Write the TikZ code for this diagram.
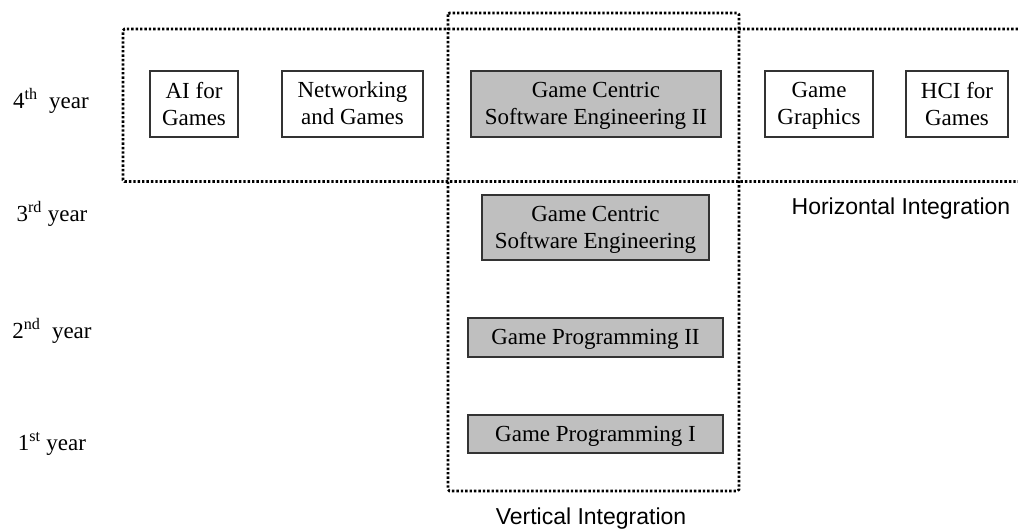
\documentclass[tikz,border=0pt]{standalone}
\usepackage{fontspec}
\setmainfont{Liberation Serif}
\newfontfamily\labelsans{Liberation Sans}
\begin{document}
\begin{tikzpicture}[x=1pt,y=1pt,
  course/.style={draw=black!80, line width=1.1pt, align=center, inner sep=0pt,
    text depth=1pt, font=\fontsize{23}{27}\selectfont},
  core/.style={course, fill=black!25},
  elective/.style={course, fill=white},
  yearlabel/.style={inner sep=0pt, font=\fontsize{23}{27}\selectfont},
  grouplabel/.style={inner sep=0pt, font=\labelsans\fontsize{23}{27}\selectfont},
  frame/.style={line width=2.8pt, dash pattern=on 2.4pt off 2.0pt, rounded corners=1.5pt}]
\useasboundingbox (0,0) rectangle (1018,529);

% year labels
\node[yearlabel] (y4) at (51,428) {4\textsuperscript{th}\ \ year};
\node[yearlabel] (y3) at (52,315) {3\textsuperscript{rd} year};
\node[yearlabel] (y2) at (52,198) {2\textsuperscript{nd}\ \ year};
\node[yearlabel] (y1) at (52,85) {1\textsuperscript{st} year};

% fourth-year courses
\node[elective, minimum width=88, minimum height=66] (ai) at (194,425) {AI for\\Games};
\node[elective, minimum width=141, minimum height=66] (net) at (352.5,425) {Networking\\and Games};
\node[core, minimum width=250, minimum height=66] (gcse2) at (596,425) {Game Centric\\Software Engineering II};
\node[elective, minimum width=108, minimum height=66] (gfx) at (819,425) {Game\\Graphics};
\node[elective, minimum width=102, minimum height=66] (hci) at (957,425) {HCI for\\Games};

% core sequence
\node[core, minimum width=227, minimum height=65] (gcse) at (595.5,301.5) {Game Centric\\Software Engineering};
\node[core, minimum width=255, minimum height=39] (gp2) at (595.5,191.5) {Game Programming II};
\node[core, minimum width=255, minimum height=38] (gp1) at (595.5,95) {Game Programming I};

% integration frames
\coordinate (htr) at (1018,500);
\coordinate (htl) at (123,500);
\coordinate (hbl) at (123,347.5);
\coordinate (hbr) at (1018,347.5);
\draw[frame] (htr) -- (htl) -- (hbl) -- (hbr);

\coordinate (vtl) at (448,516);
\coordinate (vbr) at (739,38);
\draw[frame] (vtl) rectangle (vbr);

\node[grouplabel] (hlab) at (901,320) {Horizontal Integration};
\node[grouplabel] (vlab) at (591,10) {Vertical Integration};
\end{tikzpicture}
\end{document}
